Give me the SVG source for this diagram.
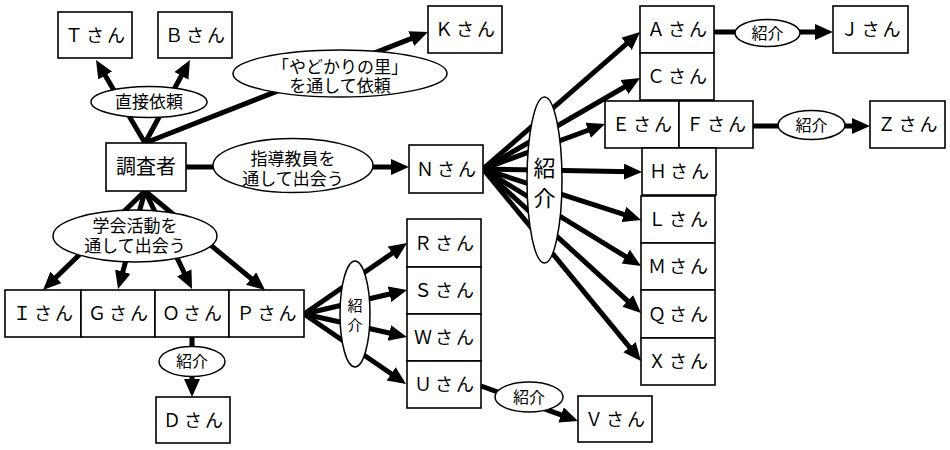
<svg xmlns="http://www.w3.org/2000/svg" width="950" height="450" viewBox="0 0 950 450">
<defs>
<marker id="ah" markerUnits="userSpaceOnUse" markerWidth="20" markerHeight="18" refX="8" refY="8" orient="auto">
<path d="M0,0 L18,8 L0,16 z" fill="#000"/>
</marker>
<style>
.b{fill:#fff;stroke:#000;stroke-width:1.6}
.e{fill:#fff;stroke:#000;stroke-width:1.5}
.t{font-family:"Noto Sans CJK JP","Noto Sans CJK SC",sans-serif;font-size:18px;letter-spacing:3px;text-anchor:middle;fill:#000}
.l{font-family:"Noto Sans CJK JP","Noto Sans CJK SC",sans-serif;font-size:17px;text-anchor:middle;fill:#000}
.s{font-family:"Noto Sans CJK JP","Noto Sans CJK SC",sans-serif;font-size:16px;text-anchor:middle;fill:#000}
.c{fill:none;stroke:#000;stroke-width:5}
.a{marker-end:url(#ah)}
</style>
</defs>
<rect width="950" height="450" fill="#fff"/>
<g id="connectors">
<path class="c a" d="M145,143 L101.1,68.6"/>
<path class="c a" d="M145,143 L185.2,68.8"/>
<path class="c a" d="M145,143 L418.7,35.7"/>
<path class="c a" d="M186,167 L399,167"/>
<path class="c a" d="M483,169 L632.5,38.6"/>
<path class="c a" d="M483,169 L631.4,83"/>
<path class="c a" d="M483,169 L595.6,127.5"/>
<path class="c a" d="M483,169 L632,171.8"/>
<path class="c a" d="M483,169 L631.5,216.9"/>
<path class="c a" d="M483,169 L632.5,260.8"/>
<path class="c a" d="M483,169 L633.6,306.3"/>
<path class="c a" d="M483,169 L634.6,353.3"/>
<path class="c a" d="M145,191 L50.2,283"/>
<path class="c a" d="M145,191 L120.7,279.4"/>
<path class="c a" d="M145,191 L187.7,280"/>
<path class="c a" d="M145,191 L257.3,283.6"/>
<path class="c a" d="M304,314 L398.8,248.7"/>
<path class="c a" d="M304,314 L397.3,292.3"/>
<path class="c a" d="M304,314 L397.2,334.8"/>
<path class="c a" d="M304,314 L397.8,378.3"/>
<path class="c a" d="M192,337 L192,387"/>
<path class="c a" d="M481,386 L568.6,417.6"/>
<path class="c a" d="M714,32 L823,32"/>
<path class="c a" d="M753,126 L860,126"/>
</g>
<g id="label-direct"><ellipse class="e" cx="149" cy="102" rx="58" ry="15.5"/><text class="l" x="149" y="108">直接依頼</text></g>
<g id="label-yadokari"><ellipse class="e" cx="340" cy="73.5" rx="107" ry="23.5"/><text class="l" x="340" y="72.5">「やどかりの里」<tspan x="340" dy="19.5">を通して依頼</tspan></text></g>
<g id="label-shidou"><ellipse class="e" cx="293" cy="165.5" rx="80" ry="27"/><text class="l" x="293" y="164.5">指導教員を<tspan x="293" dy="20">通して出会う</tspan></text></g>
<g id="label-gakkai"><ellipse class="e" cx="135" cy="236" rx="82" ry="26"/><text class="l" x="135" y="232">学会活動を<tspan x="135" dy="20">通して出会う</tspan></text></g>
<g id="label-shoukai-N"><ellipse class="e" cx="544.5" cy="180" rx="17.5" ry="83"/><text class="l" x="544.5" y="176" style="font-size:22px">紹<tspan x="544.5" dy="30">介</tspan></text></g>
<g id="label-shoukai-P"><ellipse class="e" cx="355" cy="314" rx="15" ry="53"/><text class="s" x="355" y="311" style="font-size:15px">紹<tspan x="355" dy="20">介</tspan></text></g>
<g id="label-shoukai-O"><ellipse class="e" cx="192" cy="361.5" rx="33" ry="15"/><text class="s" x="192" y="367">紹介</text></g>
<g id="label-shoukai-U"><ellipse class="e" cx="529" cy="397" rx="34" ry="15"/><text class="s" x="529" y="402.5">紹介</text></g>
<g id="label-shoukai-A"><ellipse class="e" cx="767.5" cy="33" rx="32.5" ry="13.5"/><text class="s" x="767.5" y="38.5">紹介</text></g>
<g id="label-shoukai-F"><ellipse class="e" cx="811.5" cy="125" rx="33.5" ry="14.5"/><text class="s" x="811.5" y="130.5">紹介</text></g>
<g id="node-T"><rect class="b" x="58" y="12" width="74" height="46"/><text class="t" x="96.5" y="41.5">Ｔさん</text></g>
<g id="node-B"><rect class="b" x="158" y="12" width="74" height="46"/><text class="t" x="196.5" y="41.5">Ｂさん</text></g>
<g id="node-K"><rect class="b" x="428" y="6" width="74" height="47"/><text class="t" x="466.5" y="36">Ｋさん</text></g>
<g id="node-researcher"><rect class="b" x="106" y="143" width="80" height="48"/><text class="l" x="146" y="174" style="font-size:20px">調査者</text></g>
<g id="node-N"><rect class="b" x="409" y="145" width="74" height="48"/><text class="t" x="447.5" y="175.5">Ｎさん</text></g>
<g id="node-A"><rect class="b" x="640" y="6" width="74" height="47"/><text class="t" x="678.5" y="36">Ａさん</text></g>
<g id="node-C"><rect class="b" x="640" y="53" width="74" height="47"/><text class="t" x="678.5" y="83">Ｃさん</text></g>
<g id="node-E"><rect class="b" x="605" y="101" width="74" height="47"/><text class="t" x="643.5" y="131">Ｅさん</text></g>
<g id="node-F"><rect class="b" x="679" y="101" width="74" height="47"/><text class="t" x="717.5" y="131">Ｆさん</text></g>
<g id="node-H"><rect class="b" x="642" y="148" width="74" height="47"/><text class="t" x="680.5" y="178">Ｈさん</text></g>
<g id="node-L"><rect class="b" x="641" y="196" width="74" height="47"/><text class="t" x="679.5" y="226">Ｌさん</text></g>
<g id="node-M"><rect class="b" x="641" y="243" width="74" height="47"/><text class="t" x="679.5" y="273">Ｍさん</text></g>
<g id="node-Q"><rect class="b" x="641" y="290" width="74" height="48"/><text class="t" x="679.5" y="320.5">Ｑさん</text></g>
<g id="node-X"><rect class="b" x="641" y="338" width="74" height="47"/><text class="t" x="679.5" y="368">Ｘさん</text></g>
<g id="node-J"><rect class="b" x="833" y="6" width="75" height="47"/><text class="t" x="872" y="36">Ｊさん</text></g>
<g id="node-Z"><rect class="b" x="870" y="101" width="75" height="47"/><text class="t" x="909" y="131">Ｚさん</text></g>
<g id="node-I"><rect class="b" x="5" y="290" width="76" height="47"/><text class="t" x="44.5" y="320">Ｉさん</text></g>
<g id="node-G"><rect class="b" x="81" y="290" width="74" height="47"/><text class="t" x="119.5" y="320">Ｇさん</text></g>
<g id="node-O"><rect class="b" x="155" y="290" width="74" height="47"/><text class="t" x="193.5" y="320">Ｏさん</text></g>
<g id="node-P"><rect class="b" x="229" y="290" width="75" height="47"/><text class="t" x="268" y="320">Ｐさん</text></g>
<g id="node-D"><rect class="b" x="156" y="397" width="74" height="46"/><text class="t" x="194.5" y="426.5">Ｄさん</text></g>
<g id="node-R"><rect class="b" x="407" y="219" width="74" height="48"/><text class="t" x="445.5" y="249.5">Ｒさん</text></g>
<g id="node-S"><rect class="b" x="407" y="267" width="74" height="47"/><text class="t" x="445.5" y="297">Ｓさん</text></g>
<g id="node-W"><rect class="b" x="407" y="314" width="74" height="47"/><text class="t" x="445.5" y="344">Ｗさん</text></g>
<g id="node-U"><rect class="b" x="407" y="361" width="74" height="47"/><text class="t" x="445.5" y="391">Ｕさん</text></g>
<g id="node-V"><rect class="b" x="578" y="396" width="74" height="46"/><text class="t" x="616.5" y="425.5">Ｖさん</text></g>
</svg>
